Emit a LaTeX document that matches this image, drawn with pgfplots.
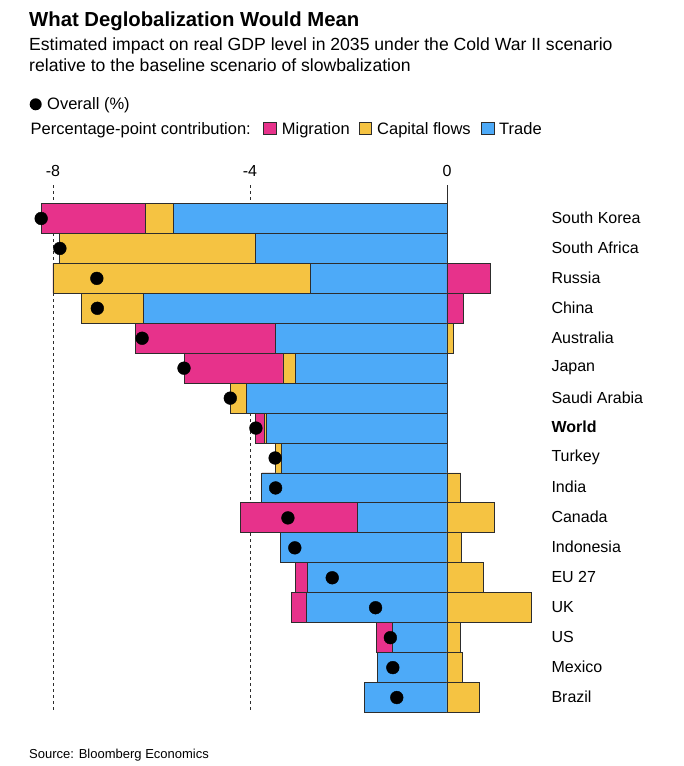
\documentclass[border=0pt]{standalone}
\usepackage{fontspec}
\setmainfont{Liberation Sans}
\usepackage{pgfplots}
\pgfplotsset{compat=1.18}
\usepackage{pgfplotstable}
\definecolor{mig}{RGB}{231,50,139}
\definecolor{cap}{RGB}{245,195,66}
\definecolor{trd}{RGB}{77,170,248}
\definecolor{edge}{RGB}{45,45,45}

\pgfplotstableread{
idx T C M PC PM O
0 -5.56 -0.57 -2.11 nan nan -8.24
1 -3.89 -3.97 0 nan nan -7.86
2 -2.77 -5.23 0 nan 0.89 -7.11
3 -6.17 -1.26 0 nan 0.33 -7.10
4 -3.48 0 -2.85 0.14 nan -6.19
5 -3.07 -0.26 -2.01 nan nan -5.34
6 -4.07 -0.33 0 nan nan -4.40
7 -3.66 -0.05 -0.17 nan nan -3.88
8 -3.37 -0.12 0 nan nan -3.49
9 -3.76 0 0 0.28 nan -3.48
10 -1.81 0 -2.39 0.97 nan -3.23
11 -3.39 0 0 0.30 nan -3.09
12 -2.83 0 -0.25 0.75 nan -2.33
13 -2.86 0 -0.30 1.71 nan -1.45
14 -1.10 0 -0.33 0.28 nan -1.15
15 -1.41 0 0 0.31 nan -1.10
16 -1.67 0 0 0.65 nan -1.02
}\data

\begin{document}
\begin{tikzpicture}[x=1pt,y=1pt]
\path[use as bounding box] (0,0) rectangle (684,-766);

\node[anchor=base west, inner sep=0pt] at (29,-26) {\fontsize{20.3}{24}\selectfont\bfseries What Deglobalization Would Mean};
\node[anchor=base west, inner sep=0pt] at (29,-50) {\fontsize{17.6}{21}\selectfont Estimated impact on real GDP level in 2035 under the Cold War II scenario};
\node[anchor=base west, inner sep=0pt] at (29,-71) {\fontsize{17.6}{21}\selectfont relative to the baseline scenario of slowbalization};

\fill[black] (35.7,-104.3) circle (6);
\node[anchor=base west, inner sep=0pt] at (47,-109) {\fontsize{16.5}{20}\selectfont Overall (\%)};
\node[anchor=base west, inner sep=0pt] at (30.5,-134) {\fontsize{16.5}{20}\selectfont Percentage-point contribution:};
\filldraw[fill=mig, draw=edge, line width=0.9pt] (263.5,-134) rectangle (276,-122);
\node[anchor=base west, inner sep=0pt] at (281.7,-134) {\fontsize{16.5}{20}\selectfont Migration};
\filldraw[fill=cap, draw=edge, line width=0.9pt] (359,-134) rectangle (371.5,-122);
\node[anchor=base west, inner sep=0pt] at (377,-134) {\fontsize{16.5}{20}\selectfont Capital flows};
\filldraw[fill=trd, draw=edge, line width=0.9pt] (481.5,-134) rectangle (494,-122);
\node[anchor=base west, inner sep=0pt] at (499,-134) {\fontsize{16.5}{20}\selectfont Trade};

\node[anchor=base west, inner sep=0pt] at (29,-758) {\fontsize{13}{16}\selectfont Source: Bloomberg Economics};

\begin{axis}[
  at={(3.75pt,-712.5pt)}, anchor=south west,
  scale only axis, width=541.75pt, height=527.5pt,
  xmin=-9, xmax=2, ymin=-1.118, ymax=16.5, y dir=reverse,
  axis line style={draw=none},
  major tick length=0pt,
  xtick={-8,-4}, xticklabels={-8,-4},
  extra x ticks={0}, extra x tick labels={0},
  extra x tick style={grid style={solid, draw=edge, line width=0.9pt}},
  xticklabel pos=upper,
  xticklabel style={anchor=base, yshift=8.3pt, font=\fontsize{16}{19}\selectfont},
  xmajorgrids,
  grid style={draw=edge, line width=0.8pt, dash pattern=on 3pt off 3pt},
  ytick={0,...,16},
  yticklabels={South Korea,South Africa,Russia,China,Australia,Japan,Saudi Arabia,\textbf{World},Turkey,India,Canada,Indonesia,EU 27,UK,US,Mexico,Brazil},
  yticklabel pos=right,
  yticklabel style={anchor=west, xshift=2.5pt, yshift=0.8pt, font=\fontsize{16}{19}\selectfont},
  clip=false,
  bar width=29.94pt,
]
\addplot[xbar, bar shift=0pt, fill=mig, draw=edge, line width=0.9pt] table[x expr=\thisrow{T}+\thisrow{C}+\thisrow{M}, y=idx]{\data};
\addplot[xbar, bar shift=0pt, fill=cap, draw=edge, line width=0.9pt] table[x expr=\thisrow{T}+\thisrow{C}, y=idx]{\data};
\addplot[xbar, bar shift=0pt, fill=trd, draw=edge, line width=0.9pt] table[x=T, y=idx]{\data};
\addplot[xbar, bar shift=0pt, fill=cap, draw=edge, line width=0.9pt, unbounded coords=discard] table[x=PC, y=idx]{\data};
\addplot[xbar, bar shift=0pt, fill=mig, draw=edge, line width=0.9pt, unbounded coords=discard] table[x=PM, y=idx]{\data};
\addplot[only marks, mark=*, mark size=6.4pt, black] table[x=O, y=idx]{\data};
\end{axis}
\end{tikzpicture}
\end{document}
